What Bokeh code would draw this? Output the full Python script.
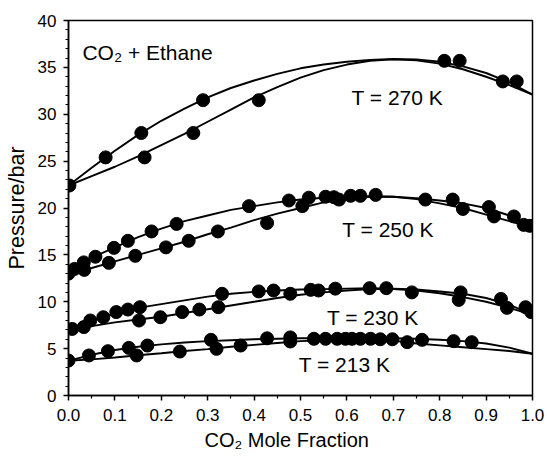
from bokeh.plotting import figure
from bokeh.models import Range1d, Label, Title, FixedTicker, PrintfTickFormatter
from bokeh.embed import file_html
from bokeh.resources import INLINE

# ---- data ----
curve_x = [0.0, 0.05, 0.1, 0.15, 0.2, 0.25, 0.3, 0.35, 0.4, 0.45, 0.5,
           0.55, 0.6, 0.65, 0.7, 0.75, 0.8, 0.85, 0.9, 0.95, 1.0]

t270_upper = [22.4, 24.3, 26.1, 27.8, 29.3, 30.6, 31.8, 32.8, 33.6, 34.3, 34.9,
              35.3, 35.6, 35.8, 35.9, 35.85, 35.6, 35.1, 34.4, 33.4, 32.1]
t270_lower = [22.4, 23.4, 24.4, 25.5, 26.7, 27.9, 29.2, 30.5, 31.8, 32.9, 33.9,
              34.7, 35.3, 35.7, 35.85, 35.75, 35.4, 34.8, 34.0, 33.1, 32.1]

t250_upper = [13.1, 14.7, 15.8, 16.9, 17.8, 18.6, 19.2, 19.8, 20.2, 20.6, 20.9,
              21.1, 21.2, 21.25, 21.2, 21.05, 20.8, 20.5, 20.0, 19.2, 17.9]
t250_lower = [13.1, 13.6, 14.3, 15.0, 15.7, 16.4, 17.2, 17.9, 18.7, 19.4, 20.0,
              20.6, 20.95, 21.2, 21.2, 20.95, 20.5, 20.0, 19.3, 18.6, 17.9]

t230_upper = [6.9, 8.0, 8.7, 9.35, 9.75, 10.15, 10.55, 10.85, 11.05, 11.2, 11.3,
              11.35, 11.4, 11.45, 11.4, 11.3, 11.1, 10.85, 10.4, 9.7, 8.6]
t230_lower = [6.9, 7.4, 7.8, 8.1, 8.4, 8.8, 9.2, 9.6, 10.0, 10.4, 10.75,
              11.0, 11.2, 11.35, 11.35, 11.2, 10.9, 10.5, 10.0, 9.35, 8.6]

t213_upper = [3.7, 4.35, 4.85, 5.2, 5.45, 5.65, 5.8, 5.9, 6.0, 6.05, 6.1,
              6.1, 6.15, 6.15, 6.1, 6.05, 5.95, 5.8, 5.55, 5.1, 4.45]
t213_lower = [3.7, 3.85, 4.05, 4.3, 4.5, 4.75, 4.95, 5.2, 5.4, 5.6, 5.8,
              5.9, 5.95, 5.95, 5.85, 5.55, 5.35, 5.15, 4.95, 4.75, 4.45]

t270_x = [0.002, 0.08, 0.157, 0.164, 0.269, 0.29, 0.41, 0.81, 0.843, 0.936, 0.966]
t270_p = [22.4, 25.4, 28.0, 25.4, 28.0, 31.5, 31.5, 35.7, 35.7, 33.5, 33.5]

t250_x = [0.0, 0.013, 0.033, 0.034, 0.058, 0.087, 0.098, 0.128, 0.144, 0.179,
          0.21, 0.233, 0.259, 0.322, 0.389, 0.428, 0.475, 0.504, 0.518, 0.554,
          0.572, 0.583, 0.608, 0.629, 0.662, 0.769, 0.828, 0.85, 0.906, 0.917,
          0.96, 0.981, 0.994]
t250_p = [13.0, 13.5, 14.2, 13.4, 14.8, 14.15, 15.75, 16.5, 14.9, 17.5,
          15.8, 18.3, 16.5, 17.5, 20.2, 18.4, 20.8, 20.2, 21.1, 21.2,
          21.15, 20.9, 21.3, 21.3, 21.4, 20.9, 20.9, 19.9, 20.1, 19.1,
          19.1, 18.2, 18.1]

t230_x = [0.008, 0.033, 0.047, 0.075, 0.103, 0.128, 0.154, 0.152, 0.198, 0.245,
          0.282, 0.323, 0.331, 0.41, 0.442, 0.478, 0.522, 0.539, 0.575, 0.649,
          0.685, 0.74, 0.845, 0.841, 0.932, 0.945, 0.985, 0.997]
t230_p = [7.1, 7.3, 8.0, 8.35, 8.9, 9.17, 9.42, 8.0, 8.35, 8.9,
          9.17, 9.42, 10.85, 11.1, 11.2, 10.85, 11.27, 11.2, 11.4, 11.45,
          11.45, 11.0, 11.0, 10.2, 10.3, 9.35, 9.42, 8.9]

t213_x = [0.0, 0.044, 0.085, 0.13, 0.147, 0.17, 0.24, 0.307, 0.319, 0.371,
          0.428, 0.478, 0.478, 0.529, 0.554, 0.579, 0.597, 0.611, 0.629, 0.651,
          0.672, 0.698, 0.73, 0.762, 0.83, 0.869]
t213_p = [3.73, 4.27, 4.73, 5.08, 4.27, 5.33, 4.69, 5.94, 4.98, 5.33,
          6.1, 6.2, 5.76, 6.05, 6.05, 6.05, 6.05, 6.05, 6.05, 6.05,
          6.0, 6.0, 5.69, 5.94, 5.8, 5.69]

x_ticks = [0.0, 0.1, 0.2, 0.3, 0.4, 0.5, 0.6, 0.7, 0.8, 0.9, 1.0]
x_minor = [0.05, 0.15, 0.25, 0.35, 0.45, 0.55, 0.65, 0.75, 0.85, 0.95]
y_ticks = [0, 5, 10, 15, 20, 25, 30, 35, 40]
y_minor = [v for v in range(0, 41) if v % 5 != 0]
x_title = "CO\u2082 Mole Fraction"
y_title = "Pressure/bar"

FONT = "Liberation Sans"

p = figure(width=547, height=459, output_backend="svg", toolbar_location=None,
           x_range=Range1d(0, 1), y_range=Range1d(0, 40),
           min_border_left=68, min_border_right=15, min_border_top=20,
           min_border_bottom=64)
p.background_fill_color = "white"
p.border_fill_color = "white"
p.xgrid.visible = False
p.ygrid.visible = False
p.outline_line_color = "black"
p.outline_line_width = 1.5
p.outline_line_alpha = 1.0

for ax in (p.xaxis[0], p.yaxis[0]):
    ax.axis_line_width = 1.5
    ax.axis_line_color = "black"
    ax.major_tick_line_color = "black"
    ax.minor_tick_line_color = "black"
    ax.major_tick_line_width = 1.5
    ax.minor_tick_line_width = 1.2
    ax.major_tick_in = 0
    ax.major_tick_out = 5
    ax.minor_tick_in = 0
    ax.minor_tick_out = 3
    ax.major_label_text_font = FONT
    ax.major_label_text_font_size = "17px"
    ax.major_label_text_color = "black"
    ax.axis_label_text_font = FONT
    ax.axis_label_text_font_style = "normal"
    ax.axis_label_text_color = "black"

p.yaxis.axis_label_text_font_size = "21.5px"
p.xaxis.ticker = FixedTicker(ticks=x_ticks, minor_ticks=x_minor)
p.yaxis.ticker = FixedTicker(ticks=y_ticks, minor_ticks=y_minor)
p.xaxis.formatter = PrintfTickFormatter(format="%.1f")
p.yaxis.formatter = PrintfTickFormatter(format="%d")
p.yaxis.axis_label = y_title
p.xaxis.major_label_standoff = 8
p.yaxis.major_label_standoff = 7
p.yaxis.axis_label_standoff = 6

# x-axis title as a title panel below the axis
p.add_layout(Title(text=x_title, align="left", offset=136, standoff=7,
                   text_font=FONT, text_font_size="20px",
                   text_font_style="normal", text_color="black"), "below")

curves = [t270_upper, t270_lower, t250_upper, t250_lower,
          t230_upper, t230_lower, t213_upper, t213_lower]
for c in curves:
    p.line(curve_x, c, line_color="black", line_width=1.9)

for xs, ps in [(t270_x, t270_p), (t250_x, t250_p), (t230_x, t230_p), (t213_x, t213_p)]:
    p.scatter(xs, ps, marker="circle", size=13, fill_color="black",
              line_color="black")

labels = [
    ("CO\u2082 + Ethane", 0.03, 36.6),
    ("T = 270 K", 0.61, 31.8),
    ("T = 250 K", 0.59, 17.7),
    ("T = 230 K", 0.557, 8.3),
    ("T = 213 K", 0.496, 3.3),
]
for txt, lx, ly in labels:
    p.add_layout(Label(x=lx, y=ly, text=txt, text_font=FONT,
                       text_font_size="21px", text_color="black",
                       text_baseline="alphabetic", text_align="left"))

open("out.html", "w").write(file_html(p, INLINE))
